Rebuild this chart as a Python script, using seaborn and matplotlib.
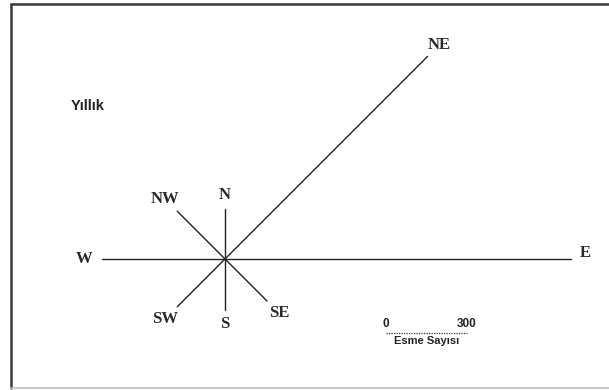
import numpy as np
import pandas as pd
import seaborn as sns
import matplotlib.pyplot as plt
from matplotlib.lines import Line2D

# esme sayisi per direction (read from the rose)
directions = ["N", "NE", "E", "SE", "S", "SW", "W", "NW"]
bearings = [0, 45, 90, 135, 180, 225, 270, 315]
counts = [185, 1060, 1280, 220, 190, 250, 455, 250]
scale_len = 300
title = "Yıllık"
scale_label = "Esme Sayısı"

sns.set_style("white")

rows = []
for d, b, c in zip(directions, bearings, counts):
    rad = np.deg2rad(b)
    rows.append({"dir": d, "x": 0.0, "y": 0.0})
    rows.append({"dir": d, "x": c * np.sin(rad), "y": c * np.cos(rad)})
rose = pd.DataFrame(rows)

fig = plt.figure(figsize=(6.09, 3.9), dpi=100)
ax = fig.add_axes([0, 0, 1, 1])

upp = 3.7  # units per pixel
ax.set_xlim(-225 * upp, (609 - 225) * upp)
ax.set_ylim(-(390 - 259) * upp, 259 * upp)

sns.lineplot(data=rose, x="x", y="y", units="dir", estimator=None,
             color="#222222", linewidth=1.0, sort=False, ax=ax, legend=False)

for d, b, c in zip(directions, bearings, counts):
    rad = np.deg2rad(b)
    dx, dy = np.sin(rad), np.cos(rad)
    off = 10 if b % 90 == 0 else 12
    if d == "W":
        off = 13
    ax.annotate(d, xy=(c * dx, c * dy), xytext=(off * dx, off * dy + (4 if d == "E" else 0)),
                textcoords="offset points", ha="center", va="center",
                fontsize=12, fontweight="bold", family="Liberation Serif",
                color="#2a2a2a")

# scale bar
x0 = (386 - 225) * upp
ys = -(333 - 259) * upp
ax.plot([x0, x0 + scale_len], [ys, ys], linestyle=(0, (1, 1)), color="#333333", linewidth=0.9)
ax.text(x0, ys + 3 * upp, "0", ha="center", va="bottom", fontsize=8.5,
        family="Liberation Sans", fontweight="bold", color="#222222")
ax.text(x0 + scale_len, ys + 3 * upp, str(scale_len), ha="center", va="bottom", fontsize=8.5,
        family="Liberation Sans", fontweight="bold", color="#222222")
ax.text(x0 + scale_len / 2, ys - 3 * upp, scale_label, ha="center", va="top", fontsize=8,
        family="Liberation Sans", fontweight="bold", color="#222222")

ax.text(-(225 - 88) * upp, (259 - 106) * upp, title, ha="center", va="center",
        fontsize=10.5, family="Liberation Sans", fontweight="bold", color="#222222")

ax.set_axis_off()

# frame
W, H = 609, 390
fig.add_artist(Line2D([11 / W, 11 / W], [1 - 4 / H, 1 - 388 / H], transform=fig.transFigure,
                      color="#3a3a3a", linewidth=1.8))
fig.add_artist(Line2D([11 / W, 1], [1 - 4 / H, 1 - 4 / H], transform=fig.transFigure,
                      color="#3a3a3a", linewidth=1.8))
fig.add_artist(Line2D([11 / W, 1], [1 - 388 / H, 1 - 388 / H], transform=fig.transFigure,
                      color="#bbbbbb", linewidth=1.2))

fig.savefig("out.png", dpi=100)
